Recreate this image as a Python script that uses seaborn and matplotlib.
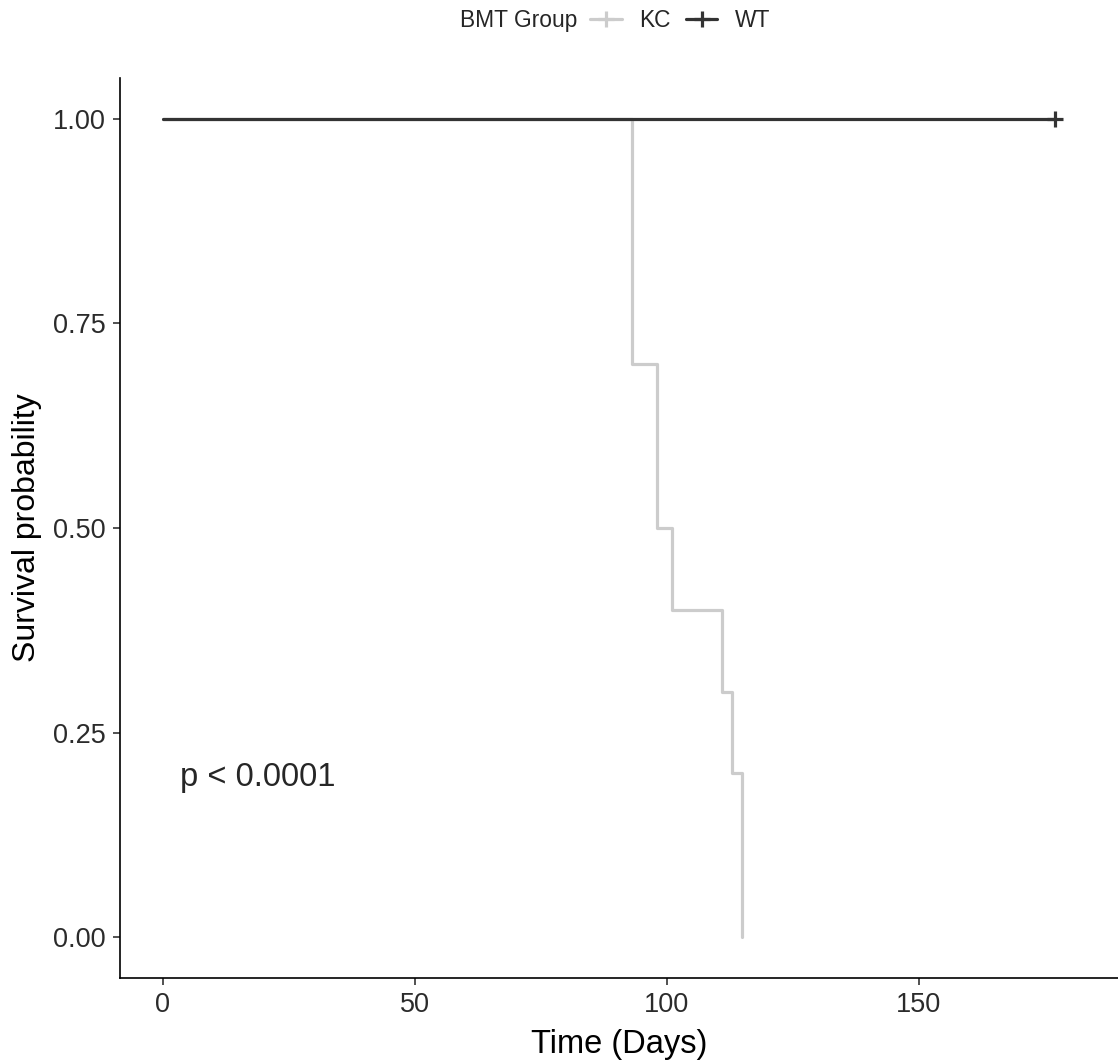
import seaborn as sns
import pandas as pd
import matplotlib.pyplot as plt
from matplotlib.lines import Line2D

# Kaplan-Meier step points
kc_time = [0, 93, 98, 101, 111, 113, 115]
kc_surv = [1.0, 0.70, 0.50, 0.40, 0.30, 0.20, 0.0]
wt_time = [0, 177]
wt_surv = [1.0, 1.0]
wt_censor_time = [177]
wt_censor_surv = [1.0]

groups = ["KC", "WT"]
colors = {"KC": "#cccccc", "WT": "#333333"}

df = pd.concat([
    pd.DataFrame({"time": kc_time, "surv": kc_surv, "group": "KC"}),
    pd.DataFrame({"time": wt_time, "surv": wt_surv, "group": "WT"}),
])

sns.set_style("ticks")
plt.rcParams['font.family'] = ['Liberation Sans', 'DejaVu Sans']

fig = plt.figure(figsize=(11.18, 10.63), dpi=100)
ax = fig.add_axes([0.1073, 0.080, 0.8927, 0.8466])

sns.lineplot(data=df, x="time", y="surv", hue="group", hue_order=groups,
             palette=colors, estimator=None, sort=False, drawstyle="steps-post",
             linewidth=2.3, legend=False, ax=ax)
ax.plot(wt_censor_time, wt_censor_surv, marker="+", markersize=12, mew=2.3,
        color=colors["WT"], linestyle="none")

ax.set_xlim(-8.5, 189.5)
ax.set_ylim(-0.05, 1.05)
ax.set_xticks([0, 50, 100, 150])
ax.set_yticks([0, 0.25, 0.5, 0.75, 1.0])
ax.set_yticklabels(["0.00", "0.25", "0.50", "0.75", "1.00"])
ax.tick_params(labelsize=19.5, colors="#333333", length=5, width=1.2, pad=5,
               labelcolor="#2b2b2b")
for side in ["left", "bottom"]:
    ax.spines[side].set_linewidth(1.2)
    ax.spines[side].set_color("black")
sns.despine(ax=ax)

ax.set_xlabel("Time (Days)", fontsize=23.5, color="black", labelpad=8)
ax.set_ylabel("Survival probability", fontsize=23, color="black", labelpad=8)
ax.text(3.4, 0.195, "p < 0.0001", fontsize=23.5, ha="left", va="center")

# legend on top
fig.text(0.516, 0.981, "BMT Group", fontsize=16.4, ha="right", va="center")
handles = [Line2D([], [], color=colors[g], linewidth=2.3, marker="+",
                  markersize=12, mew=2.3) for g in groups]
fig.legend(handles, groups, ncol=2, loc="center left", bbox_to_anchor=(0.528, 0.981),
           frameon=False, fontsize=16.4, handlelength=1.4, handletextpad=0.75,
           columnspacing=0.65, borderaxespad=0, borderpad=0)

fig.savefig("out.png", dpi=100)
